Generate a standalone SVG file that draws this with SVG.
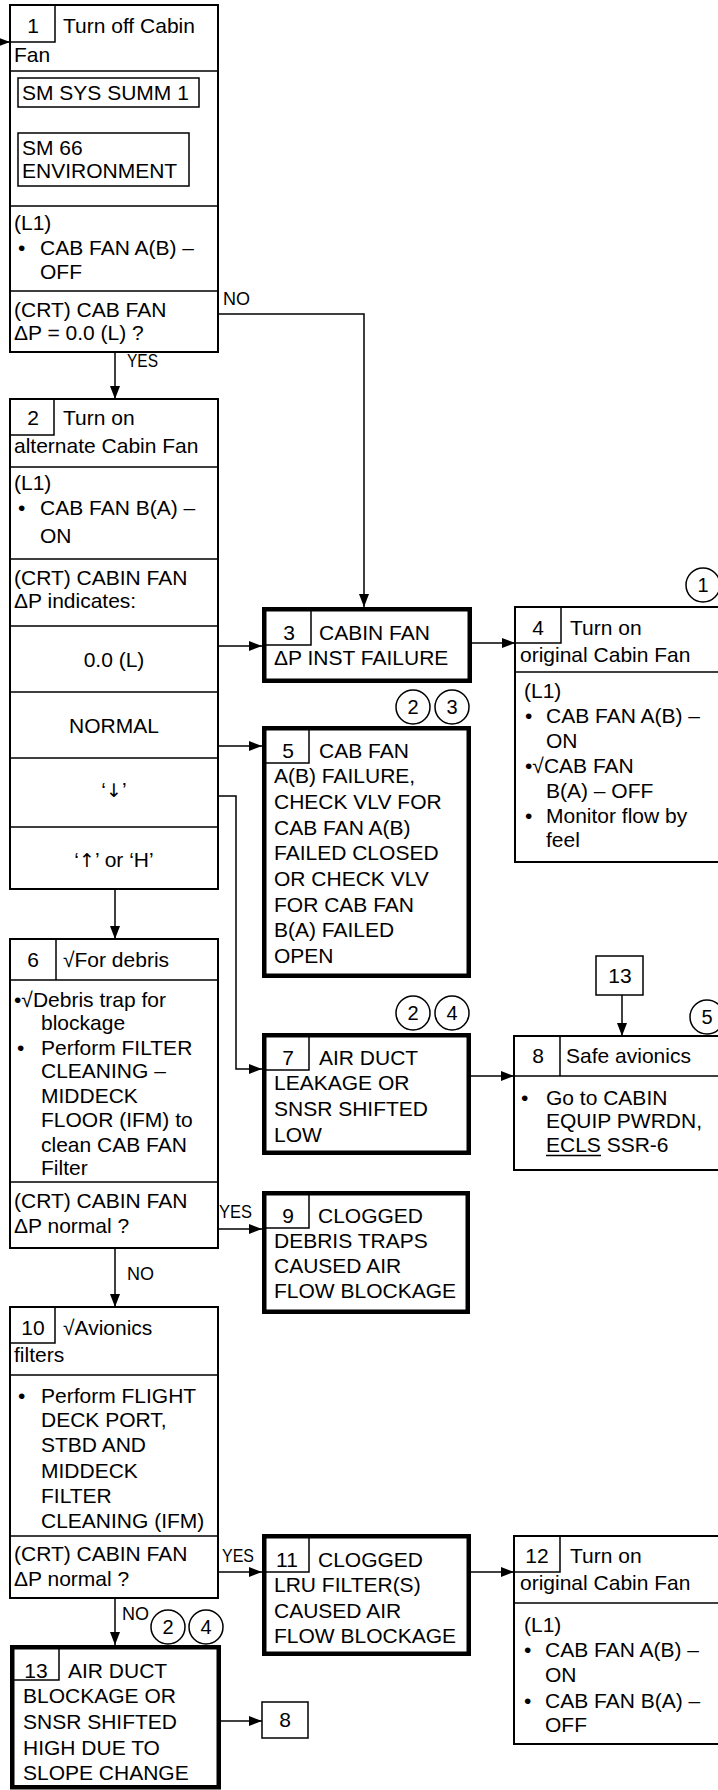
<svg xmlns="http://www.w3.org/2000/svg" width="718" height="1790" viewBox="0 0 718 1790">
<defs>
<style>
.t{font-family:"Liberation Sans",Arial,sans-serif;font-size:21px;fill:#000}
.c{text-anchor:middle}
.arr{font-family:"DejaVu Sans",sans-serif;font-size:19px}
.lbl{font-family:"Liberation Sans",Arial,sans-serif;font-size:18px;fill:#000}
.cn{font-family:"Liberation Sans",Arial,sans-serif;font-size:20px;fill:#000;text-anchor:middle}
.thin{fill:#fff;stroke:#000;stroke-width:2}
.thick{fill:#fff;stroke:#000;stroke-width:4.5}
.in{fill:none;stroke:#000;stroke-width:1.5}
.circ{fill:#fff;stroke:#000;stroke-width:1.5}
.conn{fill:none;stroke:#000;stroke-width:1.5;marker-end:url(#ah)}
</style>
<marker id="ah" markerWidth="13" markerHeight="10" refX="13" refY="5" orient="auto" markerUnits="userSpaceOnUse"><path d="M0,0 L13,5 L0,10 z" fill="#000"/></marker>
</defs>
<rect width="718" height="1790" fill="#fff"/>

<g id="connectors">
<path class="conn" d="M0,42 H10"/>
<path class="conn" d="M115,352 V399"/>
<path class="conn" d="M218,314 H364 V607"/>
<path class="conn" d="M218,646 H262"/>
<path class="conn" d="M218,746 H262"/>
<path class="conn" d="M218,796 H236 V1069 H262"/>
<path class="conn" d="M115,889 V939"/>
<path class="conn" d="M472,643 H515"/>
<path class="conn" d="M471,1076 H514"/>
<path class="conn" d="M622,995 V1036"/>
<path class="conn" d="M218,1229 H262"/>
<path class="conn" d="M115,1248 V1307"/>
<path class="conn" d="M218,1572 H262"/>
<path class="conn" d="M471,1572 H514"/>
<path class="conn" d="M115,1598 V1645"/>
<path class="conn" d="M221,1721 H262"/>
<text class="lbl" x="223" y="305">NO</text>
<text class="lbl" x="127" y="367" textLength="31" lengthAdjust="spacingAndGlyphs">YES</text>
<text class="lbl" x="219" y="1218" textLength="33" lengthAdjust="spacingAndGlyphs">YES</text>
<text class="lbl" x="127" y="1280">NO</text>
<text class="lbl" x="222" y="1562" textLength="32" lengthAdjust="spacingAndGlyphs">YES</text>
<text class="lbl" x="122" y="1620">NO</text>
</g>

<g id="node1">
<rect class="thin" x="10" y="5" width="208" height="347"/>
<path class="in" d="M10,42 H55 V5"/>
<path class="in" d="M10,71 H218 M10,206 H218 M10,291 H218"/>
<rect class="in" x="18" y="78" width="181" height="29"/>
<rect class="in" x="18" y="133" width="171" height="53"/>
<text class="t c" x="33" y="33">1</text>
<text class="t" x="63" y="33">Turn off Cabin</text>
<text class="t" x="14" y="62">Fan</text>
<text class="t" x="22" y="100">SM SYS SUMM 1</text>
<text class="t" x="22" y="155">SM 66</text>
<text class="t" x="22" y="178">ENVIRONMENT</text>
<text class="t" x="14" y="230">(L1)</text>
<text class="t" x="18" y="255">•</text>
<text class="t" x="40" y="255">CAB FAN A(B) –</text>
<text class="t" x="40" y="279">OFF</text>
<text class="t" x="14" y="317">(CRT) CAB FAN</text>
<text class="t" x="14" y="340">ΔP = 0.0 (L) ?</text>
</g>

<g id="node2">
<rect class="thin" x="10" y="399" width="208" height="490"/>
<path class="in" d="M10,435 H54 V399"/>
<path class="in" d="M10,467 H218 M10,559 H218 M10,626 H218 M10,692 H218 M10,758 H218 M10,827 H218"/>
<text class="t c" x="33" y="425">2</text>
<text class="t" x="63" y="425">Turn on</text>
<text class="t" x="14" y="453">alternate Cabin Fan</text>
<text class="t" x="14" y="490">(L1)</text>
<text class="t" x="18" y="515">•</text>
<text class="t" x="40" y="515">CAB FAN B(A) –</text>
<text class="t" x="40" y="543">ON</text>
<text class="t" x="14" y="585">(CRT) CABIN FAN</text>
<text class="t" x="14" y="608">ΔP indicates:</text>
<text class="t c" x="114" y="667">0.0 (L)</text>
<text class="t c" x="114" y="733">NORMAL</text>
<text class="t c" x="114" y="797">‘<tspan class="arr">↓</tspan>’</text>
<text class="t c" x="114" y="867">‘<tspan class="arr">↑</tspan>’ or ‘H’</text>
</g>

<g id="node3">
<rect class="thick" x="264.25" y="609.25" width="205.5" height="71.5"/>
<path class="in" d="M264,645 H311 V609"/>
<text class="t c" x="289" y="640">3</text>
<text class="t" x="319" y="640">CABIN FAN</text>
<text class="t" x="274" y="665">ΔP INST FAILURE</text>
</g>

<g id="node4">
<rect class="thin" x="515" y="607" width="215" height="255"/>
<path class="in" d="M515,643 H561 V607"/>
<path class="in" d="M515,672 H720"/>
<circle class="circ" cx="703" cy="585" r="17"/>
<text class="cn" x="703" y="592">1</text>
<text class="t c" x="538" y="635">4</text>
<text class="t" x="570" y="635">Turn on</text>
<text class="t" x="520" y="662">original Cabin Fan</text>
<text class="t" x="524" y="698">(L1)</text>
<text class="t" x="525" y="723">•</text>
<text class="t" x="546" y="723">CAB FAN A(B) –</text>
<text class="t" x="546" y="748">ON</text>
<text class="t" x="525" y="773">•√CAB FAN</text>
<text class="t" x="546" y="798">B(A) – OFF</text>
<text class="t" x="525" y="823">•</text>
<text class="t" x="546" y="823">Monitor flow by</text>
<text class="t" x="546" y="847">feel</text>
</g>

<g id="node5">
<circle class="circ" cx="413" cy="707" r="17"/>
<text class="cn" x="413" y="714">2</text>
<circle class="circ" cx="452" cy="707" r="17"/>
<text class="cn" x="452" y="714">3</text>
<rect class="thick" x="264.25" y="728.25" width="204.5" height="247.5"/>
<path class="in" d="M264,763 H309 V728"/>
<text class="t c" x="288" y="758">5</text>
<text class="t" x="319" y="758">CAB FAN</text>
<text class="t" x="274" y="783">A(B) FAILURE,</text>
<text class="t" x="274" y="809">CHECK VLV FOR</text>
<text class="t" x="274" y="835">CAB FAN A(B)</text>
<text class="t" x="274" y="860">FAILED CLOSED</text>
<text class="t" x="274" y="886">OR CHECK VLV</text>
<text class="t" x="274" y="912">FOR CAB FAN</text>
<text class="t" x="274" y="937">B(A) FAILED</text>
<text class="t" x="274" y="963">OPEN</text>
</g>

<g id="node6">
<rect class="thin" x="10" y="939" width="208" height="309"/>
<path class="in" d="M56,939 V980"/>
<path class="in" d="M10,980 H218 M10,1182 H218"/>
<text class="t c" x="33" y="967">6</text>
<text class="t" x="63" y="967">√For debris</text>
<text class="t" x="14" y="1007">•√Debris trap for</text>
<text class="t" x="41" y="1030">blockage</text>
<text class="t" x="17" y="1055">•</text>
<text class="t" x="41" y="1055">Perform FILTER</text>
<text class="t" x="41" y="1078">CLEANING –</text>
<text class="t" x="41" y="1103">MIDDECK</text>
<text class="t" x="41" y="1127">FLOOR (IFM) to</text>
<text class="t" x="41" y="1152">clean CAB FAN</text>
<text class="t" x="41" y="1175">Filter</text>
<text class="t" x="14" y="1208">(CRT) CABIN FAN</text>
<text class="t" x="14" y="1233">ΔP normal ?</text>
</g>

<g id="node7">
<circle class="circ" cx="413" cy="1013" r="17"/>
<text class="cn" x="413" y="1020">2</text>
<circle class="circ" cx="452" cy="1013" r="17"/>
<text class="cn" x="452" y="1020">4</text>
<rect class="thick" x="264.25" y="1035.25" width="204.5" height="117.5"/>
<path class="in" d="M264,1070 H309 V1035"/>
<text class="t c" x="288" y="1065">7</text>
<text class="t" x="319" y="1065">AIR DUCT</text>
<text class="t" x="274" y="1090">LEAKAGE OR</text>
<text class="t" x="274" y="1116">SNSR SHIFTED</text>
<text class="t" x="274" y="1142">LOW</text>
</g>

<g id="ref13">
<rect class="in" x="596" y="956" width="47" height="39"/>
<text class="t c" x="620" y="983">13</text>
</g>

<g id="node8">
<circle class="circ" cx="707" cy="1017" r="17"/>
<text class="cn" x="707" y="1024">5</text>
<rect class="thin" x="514" y="1036" width="216" height="134"/>
<path class="in" d="M560,1036 V1076 M514,1076 H720"/>
<text class="t c" x="538" y="1063">8</text>
<text class="t" x="566" y="1063">Safe avionics</text>
<text class="t" x="521" y="1105">•</text>
<text class="t" x="546" y="1105">Go to CABIN</text>
<text class="t" x="546" y="1128">EQUIP PWRDN,</text>
<text class="t" x="546" y="1152">ECLS SSR-6</text>
<path class="in" d="M546,1155.5 H601"/>
</g>

<g id="node9">
<rect class="thick" x="264.25" y="1193.25" width="203.5" height="118.5"/>
<path class="in" d="M264,1228 H309 V1193"/>
<text class="t c" x="288" y="1223">9</text>
<text class="t" x="318" y="1223">CLOGGED</text>
<text class="t" x="274" y="1248">DEBRIS TRAPS</text>
<text class="t" x="274" y="1273">CAUSED AIR</text>
<text class="t" x="274" y="1298">FLOW BLOCKAGE</text>
</g>

<g id="node10">
<rect class="thin" x="10" y="1307" width="208" height="291"/>
<path class="in" d="M10,1343 H55 V1307"/>
<path class="in" d="M10,1375 H218 M10,1536 H218"/>
<text class="t c" x="33" y="1335">10</text>
<text class="t" x="63" y="1335">√Avionics</text>
<text class="t" x="14" y="1362">filters</text>
<text class="t" x="18" y="1403">•</text>
<text class="t" x="41" y="1403">Perform FLIGHT</text>
<text class="t" x="41" y="1427">DECK PORT,</text>
<text class="t" x="41" y="1452">STBD AND</text>
<text class="t" x="41" y="1478">MIDDECK</text>
<text class="t" x="41" y="1503">FILTER</text>
<text class="t" x="41" y="1528">CLEANING (IFM)</text>
<text class="t" x="14" y="1561">(CRT) CABIN FAN</text>
<text class="t" x="14" y="1586">ΔP normal ?</text>
</g>

<g id="node11">
<rect class="thick" x="264.25" y="1536.25" width="204.5" height="117.5"/>
<path class="in" d="M264,1572 H309 V1536"/>
<text class="t c" x="287" y="1567">11</text>
<text class="t" x="318" y="1567">CLOGGED</text>
<text class="t" x="274" y="1592">LRU FILTER(S)</text>
<text class="t" x="274" y="1618">CAUSED AIR</text>
<text class="t" x="274" y="1643">FLOW BLOCKAGE</text>
</g>

<g id="node12">
<rect class="thin" x="514" y="1536" width="216" height="208"/>
<path class="in" d="M514,1572 H560 V1536"/>
<path class="in" d="M514,1603 H720"/>
<text class="t c" x="537" y="1563">12</text>
<text class="t" x="570" y="1563">Turn on</text>
<text class="t" x="520" y="1590">original Cabin Fan</text>
<text class="t" x="524" y="1632">(L1)</text>
<text class="t" x="524" y="1657">•</text>
<text class="t" x="545" y="1657">CAB FAN A(B) –</text>
<text class="t" x="545" y="1682">ON</text>
<text class="t" x="524" y="1708">•</text>
<text class="t" x="545" y="1708">CAB FAN B(A) –</text>
<text class="t" x="545" y="1732">OFF</text>
</g>

<g id="node13">
<circle class="circ" cx="168" cy="1627" r="17"/>
<text class="cn" x="168" y="1634">2</text>
<circle class="circ" cx="206" cy="1627" r="17"/>
<text class="cn" x="206" y="1634">4</text>
<rect class="thick" x="12.25" y="1647.25" width="206.5" height="140"/>
<path class="in" d="M12,1680 H59 V1647"/>
<text class="t c" x="36" y="1678">13</text>
<text class="t" x="68" y="1678">AIR DUCT</text>
<text class="t" x="23" y="1703">BLOCKAGE OR</text>
<text class="t" x="23" y="1729">SNSR SHIFTED</text>
<text class="t" x="23" y="1755">HIGH DUE TO</text>
<text class="t" x="23" y="1780">SLOPE CHANGE</text>
</g>

<g id="ref8">
<rect class="in" x="262" y="1702" width="46" height="36"/>
<text class="t c" x="285" y="1727">8</text>
</g>
</svg>
